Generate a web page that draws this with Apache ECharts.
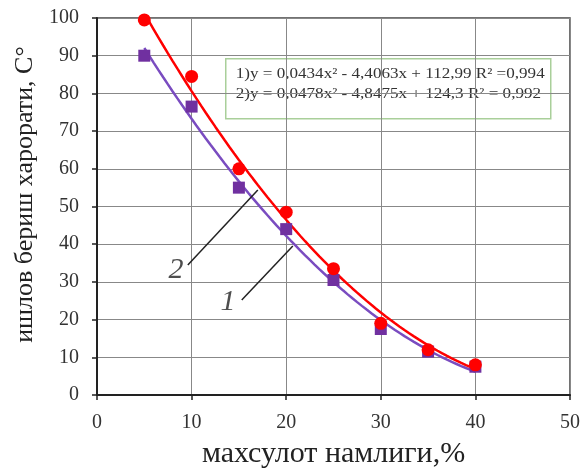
<!DOCTYPE html>
<html>
<head>
<meta charset="utf-8">
<script src="https://cdn.jsdelivr.net/npm/echarts@6/dist/echarts.min.js"></script>
<style>
  html, body { margin: 0; padding: 0; background: #fff; }
  #chart { width: 581px; height: 468px; }
</style>
</head>
<body>
<div id="chart"></div>
<script>
// Moisture content of the product, %
const moisture = [5, 10, 15, 20, 25, 30, 35, 40];
// Processing temperature, series 1 (squares) and series 2 (circles)
const temp1 = [90, 76.5, 55, 44, 30.5, 17.5, 11.5, 7.5];
const temp2 = [99.5, 84.5, 60, 48.5, 33.5, 19, 12, 8];
// Quadratic trend coefficients [a, b, c] for y = a*x^2 + b*x + c
const trend1 = [0.0434, -4.4063, 112.99];
const trend2 = [0.0478, -4.8475, 124.3];
const eqLines = [
  '1)y = 0,0434x² - 4,4063x + 112,99 R² =0,994',
  '2)y = 0,0478x² - 4,8475x + 124,3 R² = 0,992'
];
const xTicks = [0, 10, 20, 30, 40, 50];
const yTicks = [0, 10, 20, 30, 40, 50, 60, 70, 80, 90, 100];

function trendPoints(coef, x0, x1, step) {
  const pts = [];
  for (let x = x0; x <= x1 + 1e-9; x += step) {
    pts.push([x, coef[0] * x * x + coef[1] * x + coef[2]]);
  }
  return pts;
}

const serif = '"Liberation Serif", "DejaVu Serif", serif';
const red = '#ff0000';
const purple = '#7030a0';
const purpleLine = '#7a4cc0';

const chart = echarts.init(document.getElementById('chart'), null, { renderer: 'canvas' });
chart.setOption({
  animation: false,
  backgroundColor: '#fff',
  grid: {
    left: 97, right: 11, top: 18, bottom: 73,
    outerBoundsMode: 'none', containLabel: false,
    show: true, borderColor: '#444', borderWidth: 1.5
  },
  xAxis: {
    type: 'value', min: 0, max: 50, interval: 10,
    name: 'махсулот намлиги,%', nameLocation: 'middle', nameGap: 44,
    nameTextStyle: { fontFamily: serif, fontSize: 30, color: '#222' },
    axisLine: { show: true, lineStyle: { color: '#222', width: 2 } },
    axisTick: { show: true, length: 5, lineStyle: { color: '#222', width: 1.5 } },
    axisLabel: { fontFamily: serif, fontSize: 20, color: '#333', margin: 18,
      formatter: v => xTicks.includes(v) ? String(v) : '' },
    splitLine: { show: true, lineStyle: { color: '#888', width: 1 } }
  },
  yAxis: {
    type: 'value', min: 0, max: 100, interval: 10,
    name: 'ишлов бериш харорати, С°', nameLocation: 'middle', nameGap: 54,
    nameTextStyle: { fontFamily: serif, fontSize: 26, color: '#222', padding: [0, 0, 0, 24] },
    axisLine: { show: true, lineStyle: { color: '#222', width: 2 } },
    axisTick: { show: true, length: 5, lineStyle: { color: '#222', width: 1.5 } },
    axisLabel: { fontFamily: serif, fontSize: 20, color: '#333', margin: 18,
      formatter: v => yTicks.includes(v) ? String(v) : '' },
    splitLine: { show: true, lineStyle: { color: '#888', width: 1 } }
  },
  series: [
    {
      name: 'trend1', type: 'line', data: trendPoints(trend1, 5, 40, 0.5),
      showSymbol: false, smooth: false, z: 3,
      lineStyle: { color: purpleLine, width: 2.5 }
    },
    {
      name: 'trend2', type: 'line', data: trendPoints(trend2, 5, 40, 0.5),
      showSymbol: false, smooth: false, z: 3,
      lineStyle: { color: red, width: 2.5 }
    },
    {
      name: 'series1', type: 'scatter', symbol: 'rect', symbolSize: 12, z: 4,
      data: moisture.map((x, i) => [x, temp1[i]]),
      itemStyle: { color: purple, opacity: 1 }
    },
    {
      name: 'series2', type: 'scatter', symbol: 'circle', symbolSize: 13, z: 5,
      data: moisture.map((x, i) => [x, temp2[i]]),
      itemStyle: { color: red, opacity: 1 }
    },
    {
      // leader lines for curve numbers
      name: 'leaders', type: 'lines', coordinateSystem: 'cartesian2d', z: 6,
      lineStyle: { color: '#222', width: 1.5, opacity: 1 },
      data: [
        { coords: [[9.6, 34.5], [17.0, 54.4]] },
        { coords: [[15.3, 25.2], [20.7, 39.5]] }
      ]
    },
    {
      name: 'curveNumbers', type: 'scatter', symbolSize: 0, z: 7,
      data: [
        { value: [8.35, 33.2], name: '2' },
        { value: [13.85, 24.7], name: '1' }
      ],
      label: {
        show: true, position: 'inside', formatter: p => p.name,
        fontFamily: serif, fontStyle: 'italic', fontSize: 30, color: '#222'
      }
    }
  ],
  graphic: [
    {
      type: 'group', left: 225, top: 58,
      children: [
        { type: 'rect', shape: { x: 0, y: 0, width: 325, height: 60 },
          style: { fill: '#fff', stroke: '#a9cf9a', lineWidth: 1.5 } },
        { type: 'text', x: 10, y: 9, scaleX: 1.22,
          style: { text: eqLines[0], font: '14px ' + serif, fill: '#333' } },
        { type: 'text', x: 10, y: 29, scaleX: 1.22,
          style: { text: eqLines[1], font: '14px ' + serif, fill: '#333' } }
      ]
    }
  ]
});
</script>
</body>
</html>
